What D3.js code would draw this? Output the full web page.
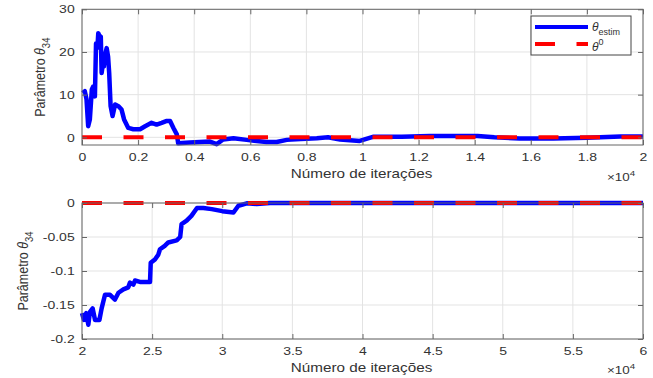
<!DOCTYPE html>
<html>
<head>
<meta charset="utf-8">
<script src="https://cdn.jsdelivr.net/npm/d3@7"></script>
<style>
  body { margin: 0; background: #fff; }
  text { font-family: "Liberation Sans", Arial, sans-serif; fill: #333; }
</style>
</head>
<body>
<svg id="chart" width="653" height="378"></svg>
<script>
// top panel: iterations (x10^4) vs estimated parameter
const iterTop = [0.002, 0.01, 0.016, 0.022, 0.028, 0.035, 0.04, 0.046, 0.05, 0.055, 0.058, 0.062, 0.067, 0.07, 0.074, 0.078, 0.083, 0.088, 0.093, 0.097,
  0.102, 0.109, 0.118, 0.13, 0.141, 0.15, 0.165, 0.183, 0.207, 0.225, 0.248, 0.266, 0.284, 0.3, 0.314, 0.326, 0.338, 0.343, 0.385, 0.42,
  0.456, 0.48, 0.503, 0.54, 0.587, 0.658, 0.694, 0.73, 0.78, 0.837, 0.877, 0.92, 0.99, 1.04, 1.14, 1.24, 1.41, 1.47, 1.56, 1.68,
  1.8, 1.92, 2.0];
const thetaTop = [10.4, 10.8, 9, 2.6, 4.2, 11.2, 11.9, 9.6, 22, 21, 24.4, 23.8, 23.6, 15.1, 17, 16.6, 19.5, 20.9, 18.9, 15,
  7.3, 5, 7.7, 7.3, 6.5, 4.2, 2.2, 1.9, 1.9, 2.6, 3.4, 3, 3.4, 3.8, 3.8, 2.2, 0.7, -1.4, -1.2, -1.1,
  -1.0, -1.6, -0.5, -0.2, -0.6, -1.1, -1.1, -0.6, -0.4, -0.2, 0, -0.5, -0.85, 0.15, 0.15, 0.3, 0.3, 0.0, -0.3, -0.3,
  -0.1, 0.2, 0.2];

// bottom panel
const iterBot = [2.0, 2.014, 2.03, 2.045, 2.057, 2.076, 2.093, 2.124, 2.14, 2.164, 2.2, 2.235, 2.26, 2.295, 2.33, 2.342, 2.366, 2.378, 2.413, 2.485,
  2.49, 2.52, 2.544, 2.556, 2.59, 2.615, 2.675, 2.7, 2.71, 2.746, 2.78, 2.82, 2.865, 2.925, 3.0, 3.08, 3.115, 3.175, 3.245, 3.34,
  3.6, 6.0];
const thetaBot = [-0.162, -0.172, -0.162, -0.179, -0.16, -0.155, -0.172, -0.172, -0.155, -0.135, -0.135, -0.142, -0.132, -0.127, -0.124, -0.117, -0.12, -0.114, -0.116, -0.116,
  -0.088, -0.083, -0.076, -0.068, -0.063, -0.058, -0.055, -0.05, -0.031, -0.026, -0.019, -0.0074, -0.0074, -0.009, -0.012, -0.014, -0.004, -0.0005, -0.0015, 0,
  0, 0];

// true value
const thetaTrue = 0;

// ticks
const xTicksTop = [0, 0.2, 0.4, 0.6, 0.8, 1, 1.2, 1.4, 1.6, 1.8, 2];
const xLabelsTop = ['0', '0.2', '0.4', '0.6', '0.8', '1', '1.2', '1.4', '1.6', '1.8', '2'];
const yTicksTop = [0, 10, 20, 30];
const yLabelsTop = ['0', '10', '20', '30'];
const xTicksBot = [2, 2.5, 3, 3.5, 4, 4.5, 5, 5.5, 6];
const xLabelsBot = ['2', '2.5', '3', '3.5', '4', '4.5', '5', '5.5', '6'];
const yTicksBot = [-0.2, -0.15, -0.1, -0.05, 0];
const yLabelsBot = ['-0.2', '-0.15', '-0.1', '-0.05', '0'];

const svg = d3.select('#chart');
const SX = 1.22; // picture is stretched horizontally
const blue = '#0000ff';
const red = '#ff0000';
const dash = '20,21.5';

function panel(opt) {
  const { left, right, top, bottom } = opt.box;
  const w = right - left, h = bottom - top;
  const x = d3.scaleLinear().domain(opt.xDomain).range([0, w]);
  const y = d3.scaleLinear().domain(opt.yDomain).range([h, 0]);
  const g = svg.append('g').attr('transform', `translate(${left},${top})`);

  // grid
  const grid = g.append('g').attr('stroke', '#e3e3e3').attr('stroke-width', 1);
  grid.selectAll('.gx').data(opt.xTicks).enter().append('line')
    .attr('x1', d => x(d)).attr('x2', d => x(d)).attr('y1', 0).attr('y2', h);
  grid.selectAll('.gy').data(opt.yTicks).enter().append('line')
    .attr('x1', 0).attr('x2', w).attr('y1', d => y(d)).attr('y2', d => y(d));

  // estimate
  const line = d3.line().x(d => x(d[0])).y(d => y(d[1]));
  g.append('path')
    .datum(d3.zip(opt.xs, opt.ys))
    .attr('fill', 'none')
    .attr('stroke', blue)
    .attr('stroke-width', 4.5)
    .attr('stroke-linejoin', 'round')
    .attr('d', line);

  // true value (dashed)
  g.append('path')
    .datum([[opt.xDomain[0], thetaTrue], [opt.xDomain[1], thetaTrue]])
    .attr('fill', 'none')
    .attr('stroke', red)
    .attr('stroke-width', 4)
    .attr('stroke-dasharray', dash)
    .attr('d', line);

  // axes, ticks inside like matlab
  const fmtX = (d, i) => opt.xLabels[i];
  const fmtY = (d, i) => opt.yLabels[i];
  g.append('g').attr('transform', `translate(0,${h})`)
    .call(d3.axisBottom(x).tickValues(opt.xTicks).tickFormat(fmtX).tickSize(-5).tickPadding(8));
  g.append('g')
    .call(d3.axisLeft(y).tickValues(opt.yTicks).tickFormat(fmtY).tickSize(-5).tickPadding(6));
  g.append('g').call(d3.axisTop(x).tickValues(opt.xTicks).tickFormat('').tickSize(-5));
  g.append('g').attr('transform', `translate(${w},0)`)
    .call(d3.axisRight(y).tickValues(opt.yTicks).tickFormat('').tickSize(-5));

  g.selectAll('.domain').remove();
  g.selectAll('.tick line').attr('stroke', '#666');
  g.selectAll('.tick text')
    .attr('fill', '#333')
    .style('font-size', '11.5px')
    .attr('transform', `scale(${SX},1)`);

  g.append('rect')
    .attr('width', w).attr('height', h)
    .attr('fill', 'none').attr('stroke', '#666').attr('stroke-width', 1);

  // x label
  svg.append('text')
    .attr('transform', `translate(${left + w / 2 - 1},${opt.xLabelY}) scale(${SX},1)`)
    .attr('text-anchor', 'middle')
    .style('font-size', '12.5px')
    .text('Número de iterações');

  // x10^4
  const ex = svg.append('text')
    .attr('transform', `translate(607,${opt.expY}) scale(${SX},1)`)
    .style('font-size', '11px');
  ex.append('tspan').text('×10');
  ex.append('tspan').attr('dy', -5).style('font-size', '8px').text('4');

  // y label
  const yl = svg.append('text')
    .attr('transform', `translate(${opt.yLabelX},${top + h / 2}) scale(${SX},1) rotate(-90)`)
    .attr('text-anchor', 'middle')
    .style('font-size', '12.5px');
  yl.append('tspan').text('Parâmetro ');
  yl.append('tspan').style('font-style', 'italic').text('θ');
  yl.append('tspan').attr('dy', 4).style('font-size', '9.5px').text('34');

  return { g, x, y };
}

panel({
  box: { left: 82, right: 643, top: 9.3, bottom: 145 },
  xDomain: [0, 2], yDomain: [-1.8, 30],
  xTicks: xTicksTop, xLabels: xLabelsTop,
  yTicks: yTicksTop, yLabels: yLabelsTop,
  xs: iterTop, ys: thetaTop,
  xLabelY: 178, expY: 181, yLabelX: 45
});

panel({
  box: { left: 82, right: 643, top: 203, bottom: 339 },
  xDomain: [2, 6], yDomain: [-0.2, 0],
  xTicks: xTicksBot, xLabels: xLabelsBot,
  yTicks: yTicksBot, yLabels: yLabelsBot,
  xs: iterBot, ys: thetaBot,
  xLabelY: 372, expY: 374, yLabelX: 28
});

// legend
const legend = svg.append('g').attr('transform', 'translate(531,16)');
legend.append('rect')
  .attr('width', 100).attr('height', 39)
  .attr('fill', '#fff').attr('stroke', '#444').attr('stroke-width', 1);
legend.append('line')
  .attr('x1', 4).attr('x2', 57).attr('y1', 11).attr('y2', 11)
  .attr('stroke', blue).attr('stroke-width', 4);
legend.append('line')
  .attr('x1', 4).attr('x2', 57).attr('y1', 28).attr('y2', 28)
  .attr('stroke', red).attr('stroke-width', 4).attr('stroke-dasharray', dash);

const t1 = legend.append('text').attr('transform', 'translate(61,15)').style('font-size', '12px');
t1.append('tspan').style('font-style', 'italic').text('θ');
t1.append('tspan').attr('dy', 4).style('font-size', '9px').text('estim');

const t2 = legend.append('text').attr('transform', 'translate(61,35)').style('font-size', '12px');
t2.append('tspan').style('font-style', 'italic').text('θ');
t2.append('tspan').attr('dy', -6).style('font-size', '9px').text('0');
</script>
</body>
</html>
